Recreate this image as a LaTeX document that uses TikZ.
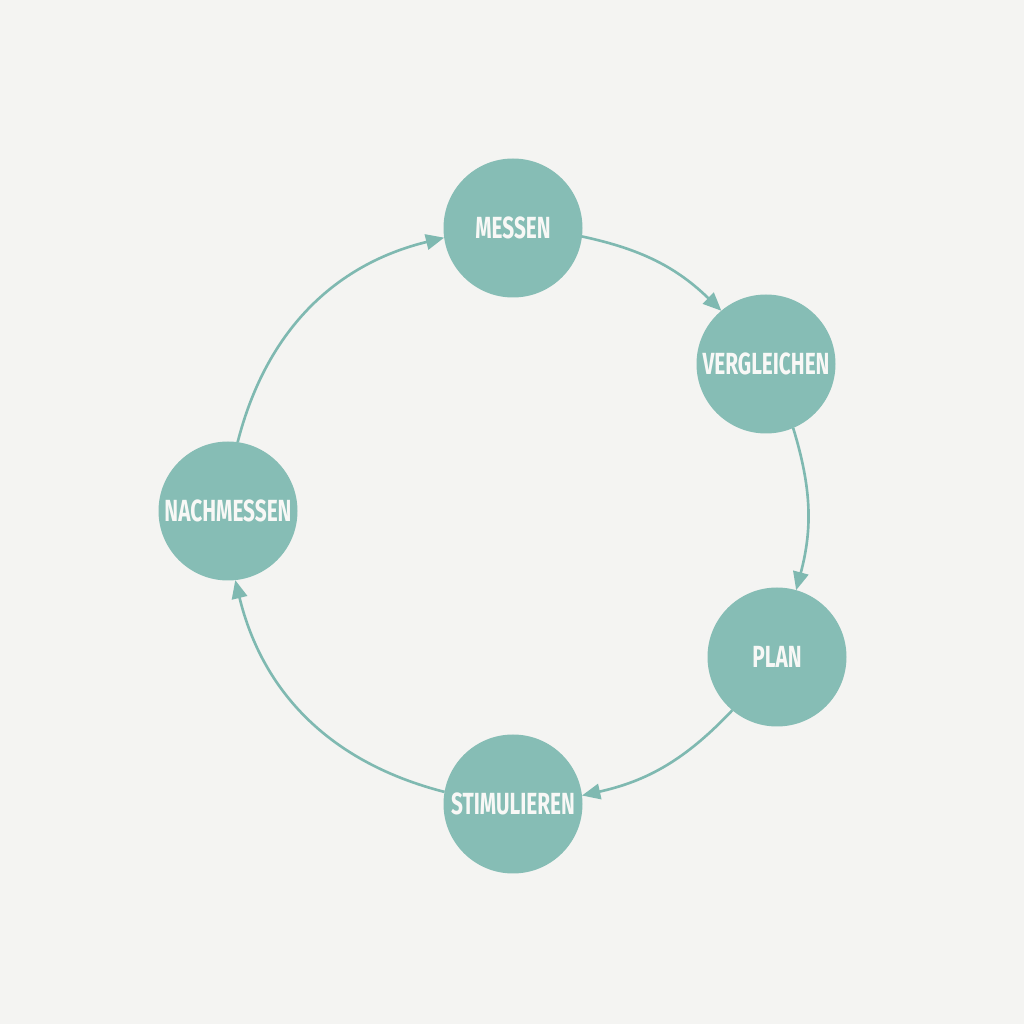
\documentclass[tikz,border=0pt]{standalone}
\usepackage{fontspec}
\usetikzlibrary{arrows.meta}
\newfontfamily\lblfont[FakeStretch=0.68]{Fira Sans}
\definecolor{bgcol}{HTML}{F4F4F2}
\definecolor{teal}{HTML}{86BDB5}
\definecolor{arrowcol}{HTML}{7FB9B1}
\definecolor{txtcol}{HTML}{F8F8F6}
\tikzset{
  stage/.style={circle, fill=teal, minimum size=1.39cm, inner sep=0pt, outer sep=0pt,
    text=txtcol, font=\lblfont\bfseries\fontsize{8.7}{10}\selectfont},
  flow/.style={draw=arrowcol, line width=0.75pt, -{Triangle[length=5.2pt,width=4.4pt]}}
}
\begin{document}
\begin{tikzpicture}
\fill[bgcol] (0,0) rectangle (10.24,10.24);
\useasboundingbox (0,0) rectangle (10.24,10.24);
\node[stage] (messen) at (5.13,7.96) {MESSEN};
\node[stage] (vergleichen) at (7.66,6.60) {VERGLEICHEN};
\node[stage] (plan) at (7.77,3.67) {PLAN};
\node[stage] (stimulieren) at (5.13,2.20) {STIMULIEREN};
\node[stage] (nachmessen) at (2.28,5.13) {NACHMESSEN};
\draw[flow] (messen.-7) to[bend left=16] (vergleichen.130);
\draw[flow] (vergleichen.-67) to[bend left=16] (plan.74);
\draw[flow] (plan.-130) to[bend left=17] (stimulieren.7);
\draw[flow] (stimulieren.170) to[bend left=31] (nachmessen.-84);
\draw[flow] (nachmessen.82) to[bend left=31] (messen.-172);
\end{tikzpicture}
\end{document}
